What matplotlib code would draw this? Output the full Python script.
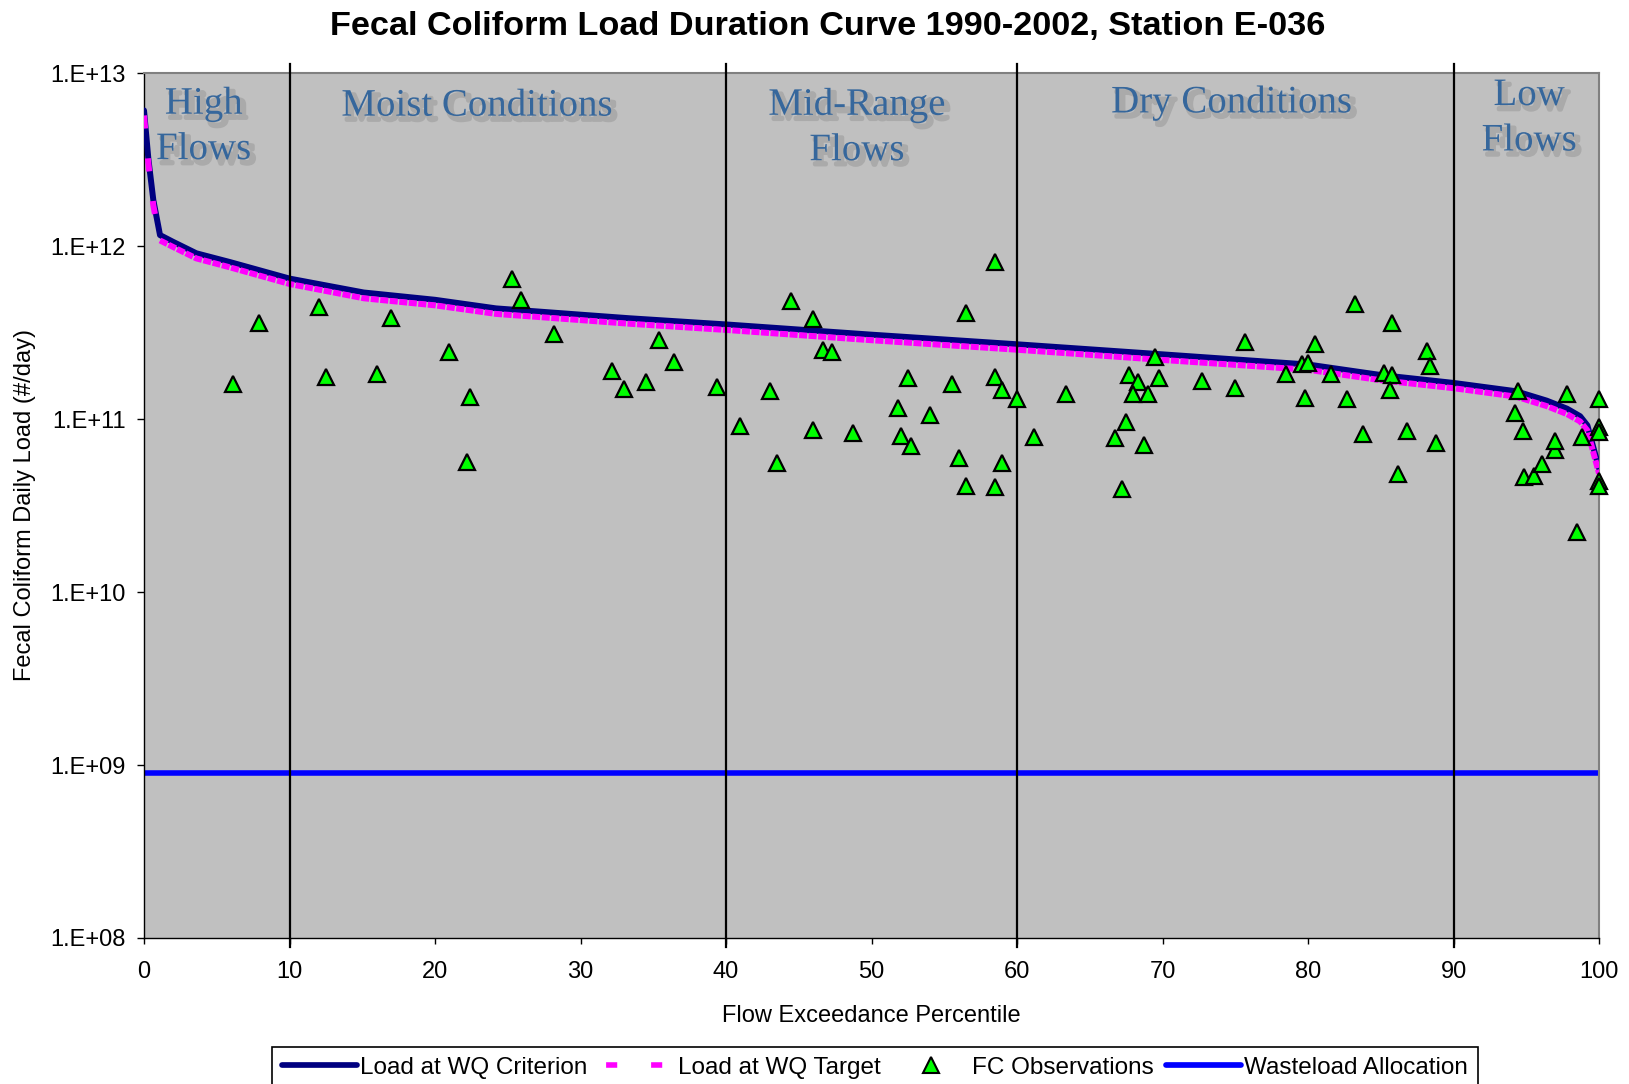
import numpy as np
import matplotlib
matplotlib.use("Agg")
import matplotlib.pyplot as plt
import matplotlib.patheffects as pe
from matplotlib.lines import Line2D
from matplotlib.ticker import FixedLocator, FuncFormatter

plt.rcParams['font.family'] = ['Liberation Sans', 'DejaVu Sans']

# flow duration curve (percentile, #/day)
curve_x = [0, 0.3, 0.64, 1.1, 2.0, 3.6, 5.9, 10, 15.1, 20, 24.2, 30, 33.4, 40,
           50, 60, 70, 80, 85, 90, 94.3, 96.4, 97.8, 98.7, 99.2, 100]
criterion = [6.1e12, 3.2e12, 1.85e12, 1.16e12, 1.06e12, 9.1e11, 8.1e11, 6.5e11,
             5.4e11, 4.9e11, 4.37e11, 4.02e11, 3.83e11, 3.53e11, 3.08e11, 2.71e11,
             2.37e11, 2.07e11, 1.8e11, 1.62e11, 1.45e11, 1.28e11, 1.15e11, 1.04e11,
             9.2e10, 5.2e10]
target = [5.7e12, 3.0e12, 1.72e12, 1.08e12, 9.9e11, 8.5e11, 7.55e11, 6.05e11,
          5.0e11, 4.55e11, 4.06e11, 3.74e11, 3.56e11, 3.28e11, 2.86e11, 2.52e11,
          2.2e11, 1.93e11, 1.68e11, 1.51e11, 1.35e11, 1.19e11, 1.07e11, 9.7e10,
          8.6e10, 4.85e10]
wla_x = [0, 100]
wla_y = [9.0e8, 9.0e8]

# fecal coliform observations
obs_x = [6.12, 7.88, 12.0, 12.5, 17.0, 16.03, 20.95, 22.4, 22.2, 25.26, 25.9, 28.2,
         35.4, 36.4, 32.15, 33.0, 34.5, 39.4,
         40.98, 43.0, 43.5, 44.5, 46.0, 46.7, 47.3, 46.0, 48.7, 52.5, 51.8, 52.0,
         52.7, 54.0, 55.5, 56.5, 58.5, 58.5, 59.0, 60.0, 56.0, 59.0, 56.5, 58.5,
         61.2, 63.4, 67.2, 66.7, 67.5, 68.7, 67.7, 68.3, 68.0, 69.0, 69.5, 69.75,
         72.7, 75.0, 75.7, 78.5, 79.8, 79.6, 80.0, 80.5, 81.6, 82.7, 83.2, 83.75,
         85.2, 85.8, 85.8, 85.6, 86.2, 86.8, 88.2, 88.4, 88.8,
         94.4, 94.2, 94.75, 94.85, 95.5, 96.1, 97.0, 97.0, 97.8, 98.8, 98.5,
         100, 100, 100, 100, 100]
obs_y = [1.60e11, 3.6e11, 4.45e11, 1.75e11, 3.87e11, 1.83e11, 2.44e11, 1.35e11,
         5.64e10, 6.44e11, 4.87e11, 3.12e11, 2.88e11, 2.14e11, 1.89e11, 1.50e11,
         1.64e11, 1.53e11,
         9.1e10, 1.45e11, 5.6e10, 4.8e11, 3.78e11, 2.5e11, 2.44e11, 8.7e10, 8.3e10,
         1.73e11, 1.16e11, 8.0e10, 7.0e10, 1.06e11, 1.6e11, 4.13e11, 8.1e11,
         1.75e11, 1.47e11, 1.31e11, 6.0e10, 5.6e10, 4.13e10, 4.04e10,
         7.9e10, 1.40e11, 3.95e10, 7.8e10, 9.6e10, 7.05e10, 1.79e11, 1.65e11,
         1.40e11, 1.39e11, 2.28e11, 1.73e11, 1.67e11, 1.51e11, 2.78e11, 1.83e11,
         1.33e11, 2.09e11, 2.11e11, 2.71e11, 1.83e11, 1.30e11, 4.66e11, 8.2e10,
         1.86e11, 3.6e11, 1.79e11, 1.47e11, 4.8e10, 8.5e10, 2.48e11, 2.02e11, 7.3e10,
         1.45e11, 1.08e11, 8.5e10, 4.6e10, 4.7e10, 5.5e10, 6.65e10, 7.5e10, 1.40e11,
         7.9e10, 2.23e10, 1.31e11, 9.0e10, 8.4e10, 4.4e10, 4.1e10]

zone_edges = [10, 40, 60, 90]
zone_labels = ["High\nFlows", "Moist Conditions", "Mid-Range\nFlows", "Dry Conditions", "Low\nFlows"]
x_ticks = list(range(0, 101, 10))
y_ticks = [1e8, 1e9, 1e10, 1e11, 1e12, 1e13]

# where the zone labels sit (x in data, y in axes fraction)
label_pos = [(4.1, 0.938), (22.9, 0.962), (49.0, 0.937), (74.75, 0.966), (95.2, 0.948)]

fig = plt.figure(figsize=(16.29, 10.84), dpi=100)
ax = fig.add_axes([0.0884, 0.1347, 0.8932, 0.7977])
ax.set_facecolor('#C0C0C0')

ax.plot(wla_x, wla_y, color='#0000FF', lw=4.0, solid_capstyle='butt', zorder=2)
ax.plot(curve_x, criterion, color='#000080', lw=4.3, solid_capstyle='round', zorder=3)
# pink dashes look long on the steep part and almost solid on the flat part
ax.plot(curve_x[:4], target[:4], color='#FF00FF', lw=4.3, dashes=(2.2, 5.0),
        dash_capstyle='butt', zorder=4)
ax.plot(curve_x[3:], target[3:], color='#FF00FF', lw=4.3, dashes=(1.35, 0.25),
        dash_capstyle='butt', zorder=4)

for xe in zone_edges:
    ax.axvline(xe, ymin=-0.011, ymax=1.011, color='black', lw=1.6, clip_on=False, zorder=5)

ax.plot(obs_x, obs_y, linestyle='none', marker='^', ms=12, mfc='#00FF00', mec='black',
        mew=1.6, clip_on=False, zorder=6)

shadow = [pe.SimplePatchShadow(offset=(3, -3), shadow_rgbFace='#aaaaaa', alpha=1.0,
                               linewidth=3, foreground='#aaaaaa'),
          pe.Normal()]
for txt, (xc, yc) in zip(zone_labels, label_pos):
    ax.text(xc, yc, txt, transform=ax.get_xaxis_transform(), ha='center', va='center',
            family=['Liberation Serif', 'DejaVu Serif'], fontsize=28, color='#36679c',
            linespacing=1.3, path_effects=shadow, zorder=7)

ax.set_xlim(0, 100)
ax.set_yscale('log')
ax.set_ylim(1e8, 1e13)
ax.xaxis.set_major_locator(FixedLocator(x_ticks))
ax.yaxis.set_major_locator(FixedLocator(y_ticks))
ax.yaxis.set_minor_locator(FixedLocator([]))
ax.yaxis.set_major_formatter(FuncFormatter(lambda v, p: '1.E+%02d' % round(np.log10(v))))
ax.tick_params(axis='x', direction='out', length=4.3, width=1, pad=12, labelsize=17)
ax.tick_params(axis='y', direction='out', length=5, width=1, pad=8.4, labelsize=17)

for side in ['top', 'right']:
    ax.spines[side].set_color('#808080')
    ax.spines[side].set_linewidth(1.5)
for side in ['left', 'bottom']:
    ax.spines[side].set_color('black')
    ax.spines[side].set_linewidth(1)

fig.text(828 / 1629, 1 - 35 / 1084, 'Fecal Coliform Load Duration Curve 1990-2002, Station E-036',
         ha='center', va='baseline', fontsize=24.7, weight='bold')
fig.text(871.5 / 1629, 1 - 1016 / 1084, 'Flow Exceedance Percentile', ha='center', va='center',
         fontsize=17)
fig.text(25 / 1629, 1 - 505 / 1084, 'Fecal Coliform Daily Load (#/day)', ha='center', va='center',
         rotation=90, fontsize=17)

handles = [
    Line2D([], [], color='#000080', lw=4.1, solid_capstyle='round'),
    Line2D([], [], color='#FF00FF', lw=4.0, linestyle=(7.0, (2.0, 6.1)), dash_capstyle='butt'),
    Line2D([], [], linestyle='none', marker='^', ms=11, mfc='#00FF00', mec='black', mew=1.5),
    Line2D([], [], color='#0000FF', lw=4.1, solid_capstyle='round'),
]
labels = ['Load at WQ Criterion', 'Load at WQ Target', 'FC Observations', 'Wasteload Allocation']
leg = fig.legend(handles, labels, loc='upper left', bbox_to_anchor=(272 / 1629, 1 - 1047 / 1084),
                 bbox_transform=fig.transFigure, ncol=4, fontsize=17.5, frameon=True,
                 fancybox=False, edgecolor='black', framealpha=1, borderaxespad=0,
                 borderpad=0.4, handlelength=3.1, handletextpad=0.13, columnspacing=0.5)
leg.get_frame().set_linewidth(1.2)

fig.savefig('out.png', dpi=100, facecolor='white')
